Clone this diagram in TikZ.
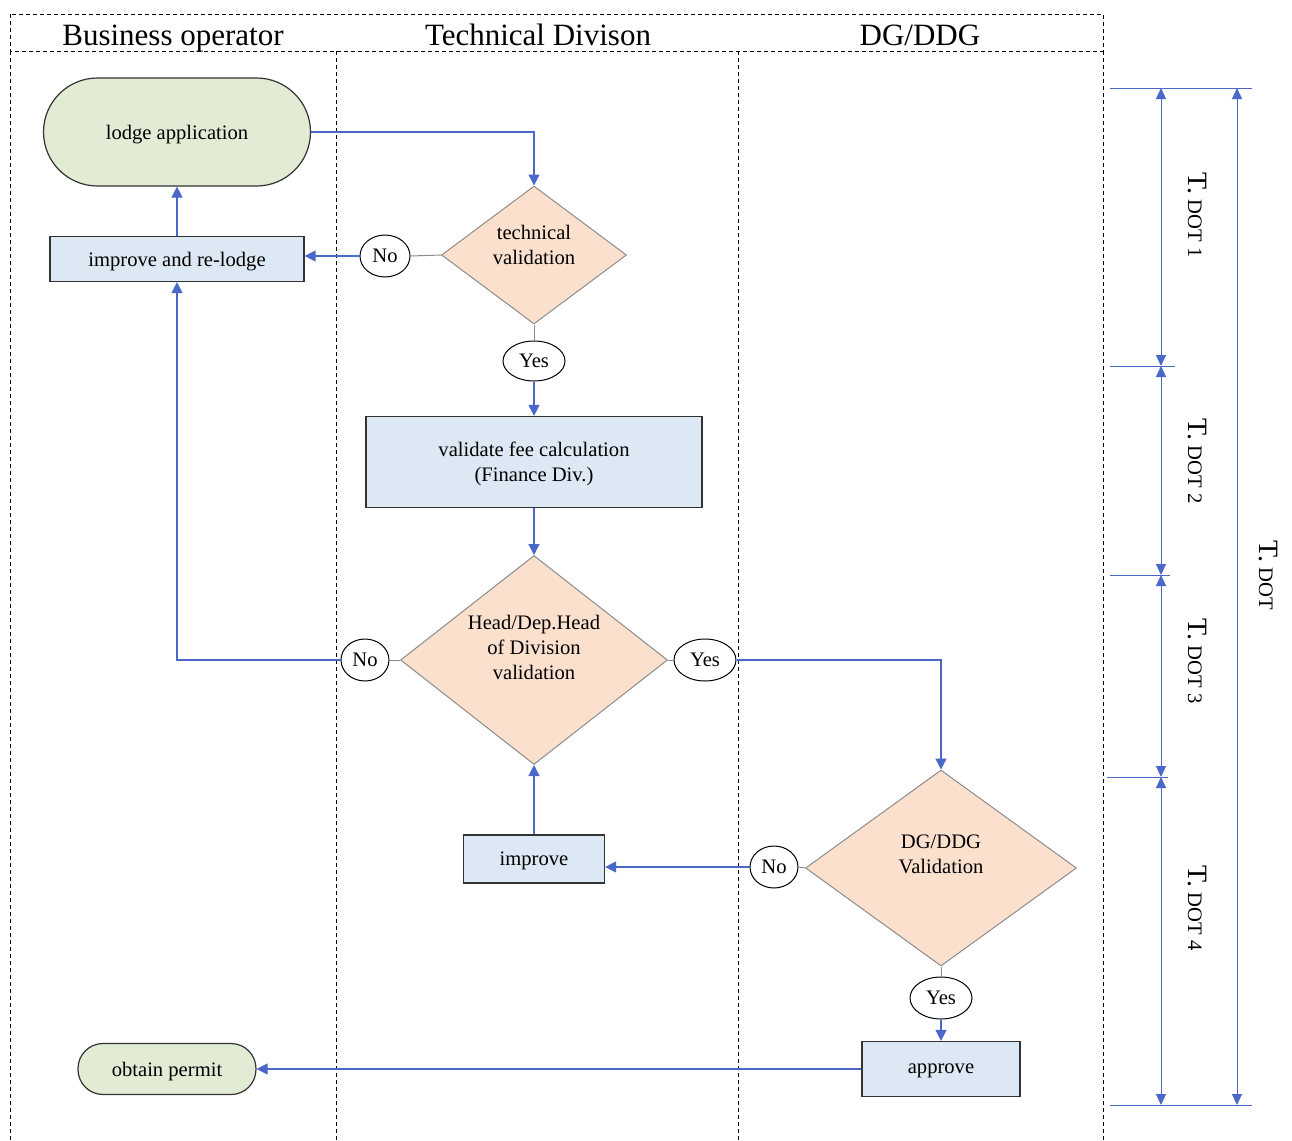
\documentclass[tikz,border=0pt]{standalone}
\usepackage{fontspec}
\setmainfont{Liberation Serif}
\usetikzlibrary{positioning, shapes.geometric, arrows.meta}
\definecolor{flowblue}{HTML}{4A68C9}
\definecolor{termgreen}{HTML}{E2ECD5}
\definecolor{procblue}{HTML}{DCE8F4}
\definecolor{decpeach}{HTML}{FAE0CD}
\definecolor{decgray}{HTML}{8C8C8C}
\definecolor{boxdark}{HTML}{333333}

\begin{document}
\begin{tikzpicture}[
    x=0.5pt, y=-0.5pt,
    font=\fontsize{10.3}{12.5}\selectfont,
    lane/.style={draw=black, line width=0.5pt, dash pattern=on 2pt off 1.5pt},
    lanetitle/.style={font=\fontsize{15.5}{18}\selectfont, text depth=0pt},
    terminal/.style={draw=boxdark, line width=0.6pt, fill=termgreen, align=center, inner sep=2pt, text depth=0pt},
    process/.style={rectangle, draw=boxdark, line width=0.6pt, fill=procblue, align=center, inner sep=2pt, text depth=0pt},
    decision/.style={diamond, draw=decgray, line width=0.5pt, fill=decpeach, align=center, inner sep=1pt},
    answer/.style={ellipse, draw=black, line width=0.5pt, fill=white, inner sep=0pt},
    flow/.style={-{Triangle[length=5.5pt, width=5.5pt]}, line width=0.6pt, flowblue},
    stem/.style={line width=0.5pt, decgray},
    dim/.style={{Triangle[length=5.5pt, width=5pt]}-{Triangle[length=5.5pt, width=5pt]}, line width=0.5pt, flowblue},
    dimtick/.style={line width=0.5pt, flowblue},
    dimlabel/.style={rotate=-90, inner sep=0pt}
]
\useasboundingbox (0,0) rectangle (1292,1141);

% ==================== SWIMLANES ====================
\draw[lane] (10,14) rectangle (1103,51);
\foreach \x in {10,336,738,1103}
    \draw[lane] (\x,51) -- (\x,1141);
\node[lanetitle] (lanebiz) at (173,35) {Business operator};
\node[lanetitle] (lanetech) at (538,35) {Technical Divison};
\node[lanetitle] (lanedg) at (920,35) {DG/DDG};

% ==================== NODES ====================
\node[terminal, rounded corners=27pt, minimum width=133.5pt, minimum height=54pt] (lodge) at (177,132) {lodge application};
\node[process, minimum width=127pt, minimum height=22.5pt] (relodge) at (177,259) {improve and re-lodge};

\node[decision, aspect=1.34, minimum width=92.5pt, minimum height=69pt, text depth=9.7pt] (techval) at (534,255) {technical\\validation};
\node[answer, minimum width=25pt, minimum height=21pt] (no1) at (385,256) {No};
\node[answer, minimum width=31pt, minimum height=20pt] (yes1) at (534,361) {Yes};

\node[process, minimum width=168pt, minimum height=45.5pt] (feecalc) at (534,462) {validate fee calculation\\(Finance Div.)};

\node[decision, aspect=1.28, minimum width=133.5pt, minimum height=104.5pt, text depth=12.7pt] (headval) at (534,660) {Head/Dep.Head\\of Division\\validation};
\node[answer, minimum width=24pt, minimum height=21pt] (no2) at (365,660) {No};
\node[answer, minimum width=31pt, minimum height=21pt] (yes2) at (705,660) {Yes};

\node[process, minimum width=70.5pt, minimum height=24pt] (improve) at (534,859) {improve};

\node[decision, aspect=1.38, minimum width=135.5pt, minimum height=98pt, text depth=13.7pt] (dgval) at (941,868) {DG/DDG\\Validation};
\node[answer, minimum width=24pt, minimum height=21pt] (no3) at (774,867) {No};
\node[answer, minimum width=31pt, minimum height=21pt] (yes3) at (941,998) {Yes};

\node[process, minimum width=79pt, minimum height=27.5pt] (approve) at (941,1069) {approve};
\node[terminal, rounded corners=12.5pt, minimum width=89pt, minimum height=25.5pt] (permit) at (167,1069) {obtain permit};

% ==================== CONNECTORS ====================
\draw[flow] (lodge.east) -| (techval.north);
\draw[stem] (techval.west) -- (no1.east);
\draw[flow] (no1.west) -- (no1.west -| relodge.east);
\draw[flow] (relodge.north) -- (lodge.south);
\draw[stem] (techval.south) -- (yes1.north);
\draw[flow] (yes1.south) -- (feecalc.north);
\draw[flow] (feecalc.south) -- (headval.north);
\draw[stem] (headval.west) -- (no2.east);
\draw[flow] (no2.west) -| (relodge.south);
\draw[stem] (headval.east) -- (yes2.west);
\draw[flow] (yes2.east) -| (dgval.north);
\draw[stem] (dgval.west) -- (no3.east);
\draw[flow] (no3.west) -- (no3.west -| improve.east);
\draw[flow] (improve.north) -- (headval.south);
\draw[stem] (dgval.south) -- (yes3.north);
\draw[flow] (yes3.south) -- (approve.north);
\draw[flow] (approve.west) -- (permit.east);

% ==================== DURATIONS ====================
\coordinate (dot0) at (1161,88);
\coordinate (dot1) at (1161,366);
\coordinate (dot2) at (1161,575);
\coordinate (dot3) at (1161,777);
\coordinate (dot4) at (1161,1105);
\coordinate (tot0) at (1237,88);
\coordinate (tot4) at (1237,1105);

\draw[dimtick] (1110,88) -- (1252,88);
\draw[dimtick] (1110,366) -- (1175,366);
\draw[dimtick] (1110,575) -- (1170,575);
\draw[dimtick] (1107,777) -- (1168,777);
\draw[dimtick] (1110,1105) -- (1252,1105);

\draw[dim] (dot0) -- (dot1);
\draw[dim] (dot1) -- (dot2);
\draw[dim] (dot2) -- (dot3);
\draw[dim] (dot3) -- (dot4);
\draw[dim] (tot0) -- (tot4);

\node[dimlabel] (lbl1) at (1197,215) {{\fontsize{14}{14}\selectfont T.} DOT 1};
\node[dimlabel] (lbl2) at (1197,461) {{\fontsize{14}{14}\selectfont T.} DOT 2};
\node[dimlabel] (lbl3) at (1197,661) {{\fontsize{14}{14}\selectfont T.} DOT 3};
\node[dimlabel] (lbl4) at (1197,908) {{\fontsize{14}{14}\selectfont T.} DOT 4};
\node[dimlabel] (lbltot) at (1268,575) {{\fontsize{14}{14}\selectfont T.} DOT};

\end{tikzpicture}
\end{document}
